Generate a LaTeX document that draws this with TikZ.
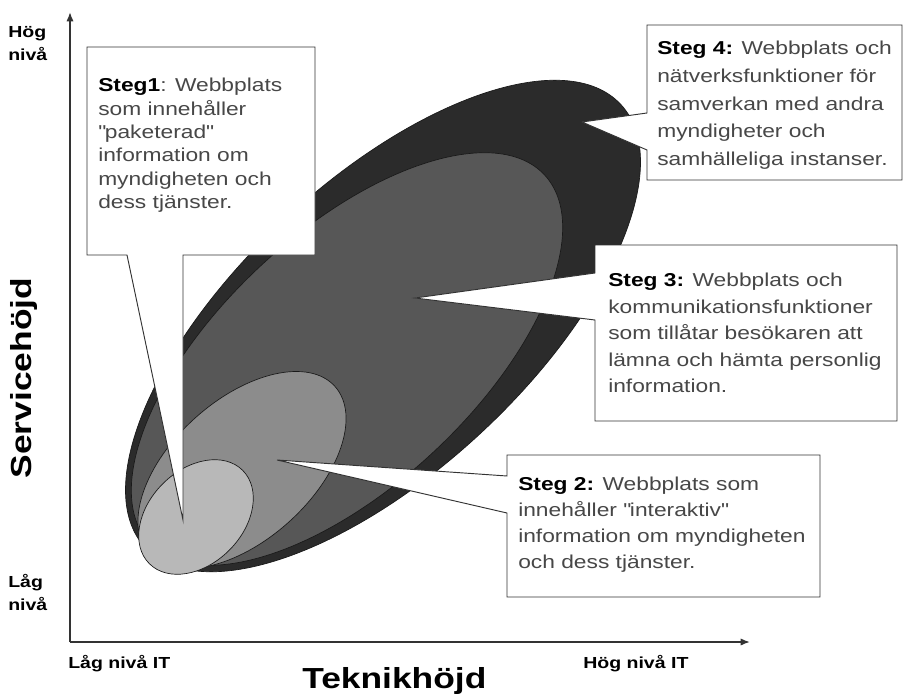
\documentclass[tikz,border=0pt]{standalone}
\usepackage{fontspec}
\setmainfont{Liberation Sans}[FakeStretch=1.22]
\usetikzlibrary{arrows.meta}

\begin{document}
\begin{tikzpicture}[x=0.75pt,y=-0.75pt,
    axis/.style={line width=1.3pt,black!80},
    callout/.style={draw=black!80,line width=0.7pt,fill=white},
    stegtext/.style={anchor=north west,inner sep=0pt,align=left,text=black!72},
    axlabel/.style={inner sep=0pt,align=left,font=\bfseries\fontsize{12}{17}\selectfont},
    biglabel/.style={inner sep=0pt,font=\bfseries\fontsize{21.75}{26}\selectfont}]
  \fill[white] (0,0) rectangle (905,695);

  % axlar
  \coordinate (origo) at (70,642);
  \coordinate (ytop) at (70,12);
  \coordinate (xend) at (750,642);
  \draw[axis,-{Latex[length=7pt,width=5.5pt]}] (origo) -- (ytop);
  \draw[axis,-{Latex[length=7pt,width=5.5pt]}] (origo) -- (xend);

  % ellipserna, den yttersta forst
  \foreach \cx/\cy/\ang/\ra/\rb/\tone in {383/326/43/325/145/83, 347/359/43/270/127/66, 242/470/42/125/70/45, 196/517/45/66/47/28} {
    \filldraw[fill=black!\tone,draw=black!90,line width=0.5pt,rotate around={\ang:(\cx,\cy)}]
      (\cx,\cy) ellipse [x radius=\ra,y radius=\rb];
  }

  % pratbubblor
  \draw[callout] (87,47) -- (315,47) -- (315,255) -- (183,255) -- (183,520) -- (127,255) -- (87,255) -- cycle;
  \draw[callout] (647,25) -- (902,25) -- (902,180) -- (647,180) -- (647,150) -- (582,122) -- (647,113) -- cycle;
  \draw[callout] (595,245) -- (897,245) -- (897,421) -- (595,421) -- (595,320) -- (415,298) -- (595,273) -- cycle;
  \draw[callout] (507,455) -- (820,455) -- (820,597) -- (507,597) -- (507,513) -- (277,460) -- (507,476) -- cycle;

  \node[stegtext,font=\fontsize{14}{17.5}\selectfont] (steg1) at (98,78)
    {\textbf{\color{black}Steg1}: Webbplats\\som innehåller\\\textquotedbl paketerad\textquotedbl\\information om\\myndigheten och\\dess tjänster.};
  \node[stegtext,font=\fontsize{14}{19.5}\selectfont] (steg2) at (518,477)
    {\textbf{\color{black}Steg 2:} Webbplats som\\innehåller \textquotedbl interaktiv\textquotedbl\\information om myndigheten\\och dess tjänster.};
  \node[stegtext,font=\fontsize{14}{19.9}\selectfont] (steg3) at (608,273)
    {\textbf{\color{black}Steg 3:} Webbplats och\\kommunikationsfunktioner\\som tillåtar besökaren att\\lämna och hämta personlig\\information.};
  \node[stegtext,font=\fontsize{14}{20.8}\selectfont] (steg4) at (657,41)
    {\textbf{\color{black}Steg 4:} Webbplats och\\nätverksfunktioner för\\samverkan med andra\\myndigheter och\\samhälleliga instanser.};

  % axeltexter
  \node[axlabel,anchor=north west] (hogniva) at (8,26) {Hög\\nivå};
  \node[axlabel,anchor=north west] (lagniva) at (8,574) {Låg\\nivå};
  \node[axlabel,anchor=base west] (lagit) at (68,668) {Låg nivå IT};
  \node[axlabel,anchor=base west] (hogit) at (583,668) {Hög nivå IT};
  \node[biglabel,anchor=base west] (teknik) at (302,688) {Teknikhöjd};
  \node[biglabel,rotate=90] (service) at (24,378) {Servicehöjd};
\end{tikzpicture}
\end{document}
